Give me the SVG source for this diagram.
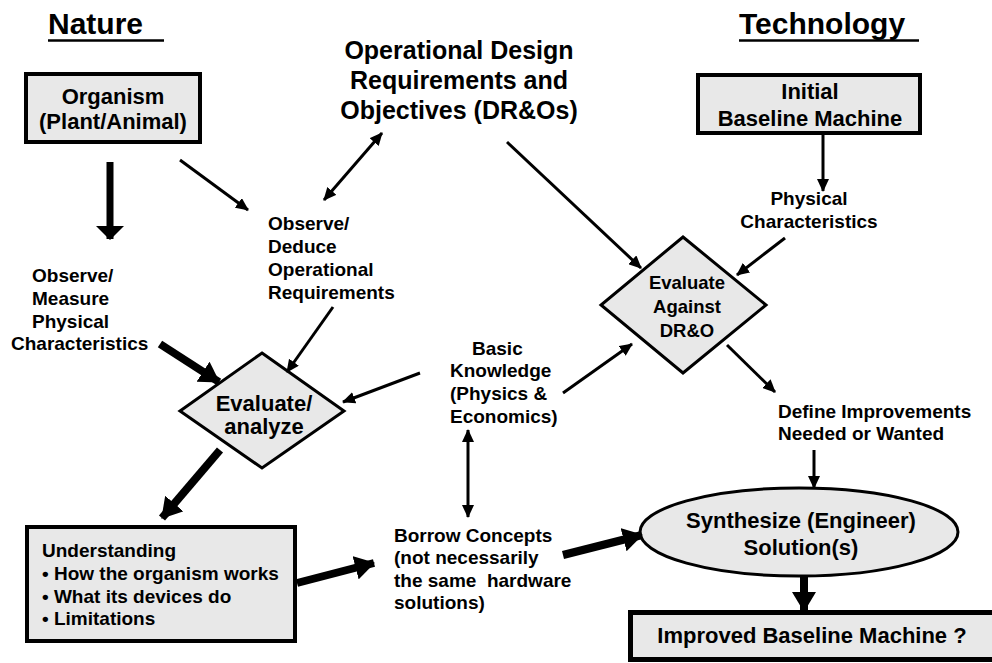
<svg xmlns="http://www.w3.org/2000/svg" width="992" height="663" viewBox="0 0 992 663">
<style>
text{font-family:"Liberation Sans",Arial,sans-serif;font-weight:bold;fill:#000}
.title{font-size:30px}
.big{font-size:22px}
.lab{font-size:19px}
.box{fill:#e8e8e8;stroke:#000;stroke-width:4}
.shape{fill:#e8e8e8;stroke:#000;stroke-width:3}
.c{text-anchor:middle}
.med{stroke:#000;stroke-width:3;fill:none}
.thk{stroke:#000;stroke-width:8;fill:none}
</style>
<defs>
<marker id="m" markerUnits="userSpaceOnUse" viewBox="0 0 13 12" refX="12" refY="6" markerWidth="13" markerHeight="12" orient="auto-start-reverse"><path d="M0,0 L13,6 L0,12 z" fill="#000"/></marker>
<marker id="t" markerUnits="userSpaceOnUse" viewBox="0 0 20 24" refX="19" refY="12" markerWidth="20" markerHeight="24" orient="auto"><path d="M0,0 L20,12 L0,24 z" fill="#000"/></marker>
<marker id="d" markerUnits="userSpaceOnUse" viewBox="0 0 14 28" refX="13" refY="14" markerWidth="14" markerHeight="28" orient="auto"><path d="M0,0 L14,14 L0,28 z" fill="#000"/></marker>
</defs>

<g id="title-nature">
<text class="title" x="48" y="34">Nature</text>
<line x1="48" y1="40.5" x2="164" y2="40.5" stroke="#000" stroke-width="2.5"/>
</g>
<g id="title-technology">
<text class="title" x="739" y="34">Technology</text>
<line x1="739" y1="40.5" x2="919" y2="40.5" stroke="#000" stroke-width="2.5"/>
</g>

<g id="organism">
<rect class="box" x="26" y="74" width="174" height="68"/>
<text class="big c" x="113" y="104">Organism</text>
<text class="big c" x="113" y="129">(Plant/Animal)</text>
</g>

<g id="drandos">
<text class="c" font-size="25" x="459" y="59">Operational Design</text>
<text class="c" font-size="25" x="459" y="89">Requirements and</text>
<text class="c" font-size="25" x="459" y="119">Objectives (DR&amp;Os)</text>
</g>

<g id="initial">
<rect class="box" x="698" y="75" width="222" height="58"/>
<text class="big c" x="810" y="99">Initial</text>
<text class="big c" x="810" y="126">Baseline Machine</text>
</g>

<g id="phys-char">
<text class="lab c" x="809" y="205">Physical</text>
<text class="lab c" x="809" y="228">Characteristics</text>
</g>

<g id="observe-deduce">
<text class="lab" x="268" y="230">Observe/</text>
<text class="lab" x="268" y="253">Deduce</text>
<text class="lab" x="268" y="276">Operational</text>
<text class="lab" x="268" y="299">Requirements</text>
</g>

<g id="observe-measure">
<text class="lab" x="32" y="282">Observe/</text>
<text class="lab" x="32" y="305">Measure</text>
<text class="lab" x="32" y="328">Physical</text>
<text class="lab" x="11" y="350">Characteristics</text>
</g>

<g id="evaluate-against">
<polygon class="shape" points="683,237 766,305 683,373 601,305"/>
<text class="c" font-size="18.5" x="687" y="289">Evaluate</text>
<text class="c" font-size="18.5" x="687" y="313">Against</text>
<text class="c" font-size="18.5" x="687" y="337">DR&amp;O</text>
</g>

<g id="evaluate-analyze">
<polygon class="shape" points="262,353 344,411 262,468 180,411"/>
<text class="big c" x="264" y="411">Evaluate/</text>
<text class="big c" x="264" y="434">analyze</text>
</g>

<g id="basic-knowledge">
<text class="lab" x="472" y="355">Basic</text>
<text class="lab" x="450" y="377">Knowledge</text>
<text class="lab" x="450" y="400">(Physics &amp;</text>
<text class="lab" x="450" y="423">Economics)</text>
</g>

<g id="define">
<text class="lab" x="778" y="418">Define Improvements</text>
<text class="lab" x="778" y="440">Needed or Wanted</text>
</g>

<g id="understanding">
<rect class="box" x="27" y="527" width="268" height="114"/>
<text class="lab" x="42" y="557">Understanding</text>
<text class="lab" x="42" y="580">• How the organism works</text>
<text class="lab" x="42" y="603">• What its devices do</text>
<text class="lab" x="42" y="625">• Limitations</text>
</g>

<g id="borrow">
<text class="lab" x="394" y="542">Borrow Concepts</text>
<text class="lab" x="394" y="564">(not necessarily</text>
<text class="lab" x="394" y="587" xml:space="preserve">the same  hardware</text>
<text class="lab" x="394" y="609">solutions)</text>
</g>

<g id="synthesize">
<ellipse class="shape" cx="799" cy="532" rx="159" ry="44"/>
<text class="big c" x="801" y="528">Synthesize (Engineer)</text>
<text class="big c" x="801" y="555">Solution(s)</text>
</g>

<g id="improved">
<rect x="630.5" y="612.5" width="400" height="47" fill="#e8e8e8" stroke="#000" stroke-width="5"/>
<text class="big c" x="812" y="643">Improved Baseline Machine ?</text>
</g>

<g id="connectors">
<line x1="110" y1="162" x2="110" y2="239" stroke="#000" stroke-width="7" marker-end="url(#d)"/>
<line class="med" x1="180" y1="160" x2="248" y2="210" marker-end="url(#m)"/>
<line class="med" x1="324" y1="200" x2="382" y2="133" marker-start="url(#m)" marker-end="url(#m)"/>
<line class="med" x1="507" y1="142" x2="641" y2="268" marker-end="url(#m)"/>
<line class="med" x1="823" y1="135" x2="823" y2="191" marker-end="url(#m)"/>
<line class="med" x1="785" y1="238" x2="737" y2="275" marker-end="url(#m)"/>
<line class="thk" x1="160" y1="344" x2="219" y2="382" marker-end="url(#t)"/>
<line class="med" x1="333" y1="307" x2="287" y2="372" marker-end="url(#m)"/>
<line class="med" x1="420" y1="373" x2="343" y2="402" marker-end="url(#m)"/>
<line class="med" x1="563" y1="393" x2="632" y2="344" marker-end="url(#m)"/>
<line class="med" x1="468" y1="430" x2="468" y2="517" marker-start="url(#m)" marker-end="url(#m)"/>
<line class="med" x1="727" y1="345" x2="775" y2="392" marker-end="url(#m)"/>
<line class="med" x1="814" y1="450" x2="814" y2="488" marker-end="url(#m)"/>
<line class="thk" x1="220" y1="450" x2="162" y2="518" marker-end="url(#t)"/>
<line class="thk" x1="297" y1="583" x2="374" y2="563" marker-end="url(#t)"/>
<line class="thk" x1="563" y1="555" x2="642" y2="535" marker-end="url(#t)"/>
<line class="thk" x1="804" y1="577" x2="804" y2="611" marker-end="url(#t)"/>
</g>
</svg>
